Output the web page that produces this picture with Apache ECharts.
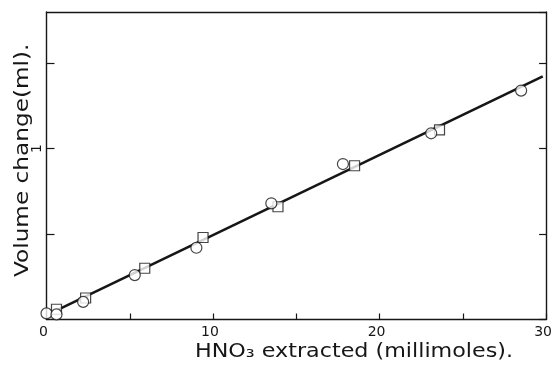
<!DOCTYPE html>
<html>
<head>
<meta charset="utf-8">
<script src="https://cdn.jsdelivr.net/npm/echarts@6/dist/echarts.min.js"></script>
<style>
  html, body { margin: 0; padding: 0; background: #fff; }
  #chart { width: 555px; height: 367px; }
</style>
</head>
<body>
<div id="chart"></div>
<script>
// Open circles: first run
const circleX = [0.0, 0.6, 2.2, 5.3, 9.0, 13.5, 17.8, 23.1, 28.5];
const circleY = [0.036, 0.03, 0.103, 0.26, 0.42, 0.68, 0.91, 1.09, 1.34];
// Open squares: second run
const squareX = [0.6, 2.35, 5.9, 9.4, 13.9, 18.5, 23.6];
const squareY = [0.06, 0.126, 0.30, 0.48, 0.66, 0.90, 1.11];
// Fitted straight line (end points)
const fitX = [0.7, 29.8];
const fitY = [0.058, 1.423];
// Labelled ticks
const xTickLabels = ['0', '10', '20', '30'];
const yTickLabels = ['1'];
// Axis titles
const xTitle = 'HNO\u2083 extracted (millimoles).';
const yTitle = 'Volume change(ml).';

const ink = '#161616';
const titleFont = 'normal 19px "DejaVu Sans"';

const zip = (xs, ys) => xs.map((x, i) => [x, ys[i]]);

const chart = echarts.init(document.getElementById('chart'), null, { renderer: 'canvas' });

chart.setOption({
  backgroundColor: '#ffffff',
  animation: false,
  grid: { left: 46.5, right: 4.5, top: 12, bottom: 47.5, containLabel: false },
  xAxis: [
    {
      type: 'value', min: 0, max: 30, interval: 5, position: 'bottom',
      axisLine: { show: true, lineStyle: { color: ink, width: 1.4 } },
      axisTick: { show: true, inside: true, length: 6, lineStyle: { color: ink, width: 1.2 } },
      splitLine: { show: false },
      axisLabel: {
        show: true, margin: 6, color: ink, fontFamily: 'DejaVu Sans', fontSize: 14,
        showMinLabel: true, showMaxLabel: true, padding: [0, 6, 0, 0],
        formatter: v => xTickLabels.includes(String(v)) ? String(v) : ''
      }
    },
    {
      type: 'value', min: 0, max: 30, position: 'top',
      axisLine: { show: true, onZero: false, lineStyle: { color: ink, width: 1.4 } },
      axisTick: { show: false }, axisLabel: { show: false }, splitLine: { show: false }
    }
  ],
  yAxis: [
    {
      type: 'value', min: 0, max: 1.8, interval: 0.5, position: 'left',
      axisLine: { show: true, onZero: false, lineStyle: { color: ink, width: 1.4 } },
      axisTick: { show: true, inside: true, length: 8, lineStyle: { color: ink, width: 1.2 } },
      splitLine: { show: false },
      axisLabel: {
        show: true, margin: 2, rotate: 90, color: ink, fontFamily: 'DejaVu Sans', fontSize: 14,
        showMinLabel: false, showMaxLabel: false,
        formatter: v => yTickLabels.includes(String(v)) ? String(v) : ''
      }
    },
    {
      type: 'value', min: 0, max: 1.8, interval: 0.5, position: 'right',
      axisLine: { show: true, onZero: false, lineStyle: { color: ink, width: 1.4 } },
      axisTick: { show: true, inside: true, length: 7, lineStyle: { color: ink, width: 1.2 } },
      axisLabel: { show: false }, splitLine: { show: false }
    }
  ],
  graphic: [
    {
      type: 'text', left: 195, top: 343, scaleX: 1.17,
      style: { text: xTitle, font: titleFont, fill: ink }
    },
    {
      type: 'text', x: 14, y: 277, rotation: Math.PI / 2, scaleX: 1.22,
      style: { text: yTitle, font: titleFont, fill: ink, textAlign: 'left', textVerticalAlign: 'top' }
    }
  ],
  series: [
    {
      type: 'line', xAxisIndex: 0, yAxisIndex: 0, z: 2,
      data: zip(fitX, fitY), symbol: 'none',
      lineStyle: { color: ink, width: 2.6 }
    },
    {
      type: 'scatter', xAxisIndex: 0, yAxisIndex: 0, z: 3,
      data: zip(squareX, squareY), symbol: 'rect', symbolSize: 10,
      itemStyle: { color: '#ffffff', borderColor: ink, borderWidth: 1.2 }
    },
    {
      type: 'scatter', xAxisIndex: 0, yAxisIndex: 0, z: 4,
      data: zip(circleX, circleY), symbol: 'circle', symbolSize: 11,
      itemStyle: { color: '#ffffff', borderColor: ink, borderWidth: 1.2 }
    }
  ]
});
</script>
</body>
</html>
